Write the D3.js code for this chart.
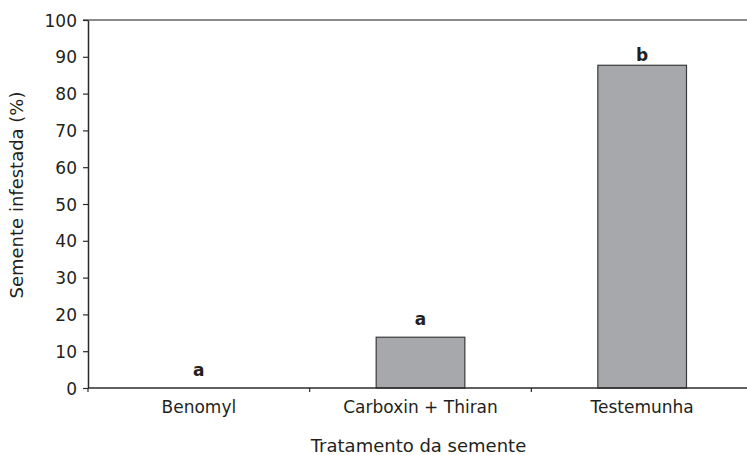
<!DOCTYPE html>
<html>
<head>
<meta charset="utf-8">
<script src="https://cdn.jsdelivr.net/npm/d3@7"></script>
<style>
  html, body { margin: 0; padding: 0; background: #fff; }
  svg { display: block; }
  text { font-family: "DejaVu Sans", sans-serif; fill: #231f20; }
</style>
</head>
<body>
<svg id="chart" width="747" height="455"></svg>
<script>
// Seed treatments and percentage of infested seed
const categories = ["Benomyl", "Carboxin + Thiran", "Testemunha"];
const infested = [0, 13.8, 87.7];
const groupLetters = ["a", "a", "b"];
const yTicks = [0, 10, 20, 30, 40, 50, 60, 70, 80, 90, 100];

const svg = d3.select("#chart");
const plotLeft = 88, plotRight = 753, plotTop = 20, plotBottom = 388;

const x = d3.scaleBand().domain(categories).range([plotLeft, plotRight]).padding(0);
const y = d3.scaleLinear().domain([0, 100]).range([plotBottom, plotTop]);

// top frame line
svg.append("line")
  .attr("x1", plotLeft - 5).attr("x2", 747)
  .attr("y1", plotTop).attr("y2", plotTop)
  .attr("stroke", "#8c8c8c").attr("stroke-width", 2);

// bars
const bw = x.bandwidth() * 0.4;
svg.append("g").selectAll("rect")
  .data(categories)
  .join("rect")
  .attr("x", (d) => x(d) + (x.bandwidth() - bw) / 2)
  .attr("width", bw)
  .attr("y", (d, i) => y(infested[i]))
  .attr("height", (d, i) => plotBottom - y(infested[i]))
  .attr("fill", "#a7a8ab")
  .attr("stroke", "#3a3a3a")
  .attr("stroke-width", 1.2)
  .attr("display", (d, i) => infested[i] > 0 ? null : "none");

// y axis
const yAxis = svg.append("g")
  .attr("transform", `translate(${plotLeft},0)`)
  .call(d3.axisLeft(y).tickValues(yTicks).tickSize(5).tickPadding(6).tickSizeOuter(0));
yAxis.select(".domain").attr("stroke", "#2b2b2b").attr("stroke-width", 1.5);
yAxis.selectAll(".tick line").attr("stroke", "#2b2b2b").attr("stroke-width", 1.2);
yAxis.selectAll(".tick text")
  .attr("font-family", "DejaVu Sans, sans-serif")
  .attr("font-size", 17).attr("fill", "#231f20").attr("dy", "0.36em");

// x axis: labels centred in bands, ticks on band boundaries
const xAxis = svg.append("g")
  .attr("transform", `translate(0,${plotBottom})`)
  .call(d3.axisBottom(x).tickSize(0).tickPadding(13).tickSizeOuter(0));
xAxis.select(".domain").remove();
xAxis.selectAll(".tick text")
  .attr("font-family", "DejaVu Sans, sans-serif")
  .attr("font-size", 17).attr("fill", "#231f20");
svg.append("line")
  .attr("x1", plotLeft).attr("x2", 747)
  .attr("y1", plotBottom).attr("y2", plotBottom)
  .attr("stroke", "#2b2b2b").attr("stroke-width", 1.5);
svg.append("g").selectAll("line")
  .data(categories)
  .join("line")
  .attr("x1", (d) => x(d)).attr("x2", (d) => x(d))
  .attr("y1", plotBottom).attr("y2", plotBottom + 4)
  .attr("stroke", "#2b2b2b").attr("stroke-width", 1.2);

// significance letters above each bar
svg.append("g").selectAll("text")
  .data(categories)
  .join("text")
  .attr("x", (d) => x(d) + x.bandwidth() / 2)
  .attr("y", (d, i) => y(infested[i]) - (groupLetters[i] === "b" ? 4 : 12))
  .attr("text-anchor", "middle")
  .attr("font-size", 17).attr("font-weight", "bold")
  .text((d, i) => groupLetters[i]);

// axis titles
svg.append("text")
  .attr("x", (plotLeft + plotRight) / 2 - 2).attr("y", 452)
  .attr("text-anchor", "middle")
  .attr("font-size", 18)
  .text("Tratamento da semente");

svg.append("text")
  .attr("transform", "translate(23,195) rotate(-90)")
  .attr("text-anchor", "middle")
  .attr("font-size", 18)
  .text("Semente infestada (%)");
</script>
</body>
</html>
